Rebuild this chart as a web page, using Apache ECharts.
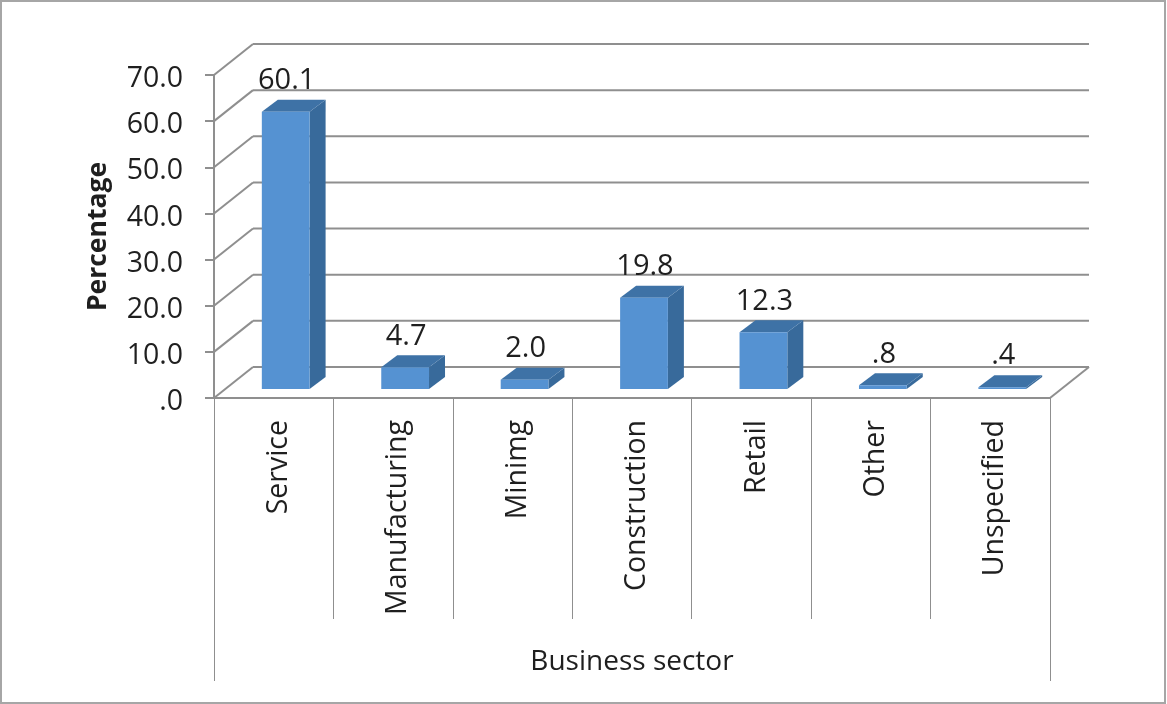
<!DOCTYPE html>
<html>
<head>
<meta charset="utf-8">
<style>html,body{margin:0;padding:0;background:#fff}#chart{width:1167px;height:704px}</style>
<script src="https://cdn.jsdelivr.net/npm/echarts@6/dist/echarts.min.js"></script>
</head>
<body>
<div id="chart"></div>
<script>
// Share of businesses by sector, in percent
const categories = ['Service', 'Manufacturing', 'Minimg', 'Construction', 'Retail', 'Other', 'Unspecified'];
const percentages = [60.1, 4.7, 2.0, 19.8, 12.3, 0.8, 0.4];
const gridTicks = [0, 10, 20, 30, 40, 50, 60, 70];
const xGroup = ['Business sector'];

const FONT = '"Open Sans"';
const TEXT = '#1f1f1f';
const LINE = '#8f8f8f';
const WALL = { dx: 39, dy: -31 };     // offset of the back wall from the axis plane
const INSET = { dx: 12, dy: -9 };     // bar front face, measured from the axis plane
const DEPTH = { dx: 16, dy: -12 };    // extrusion of each bar
const BAR_RATIO = 0.4;

const fmt = v => v.toFixed(1).replace(/^0/, '');
const poly = (points, fill, z2) => ({ type: 'polygon', z2, shape: { points }, style: { fill } });
const seg = (x1, y1, x2, y2) => ({
  type: 'line', shape: { x1, y1, x2, y2 }, style: { stroke: LINE, lineWidth: 2, fill: null }
});

// Floor and back wall: one horizontal plus one diagonal per tick
function renderWall(params, api) {
  const cs = params.coordSys;
  const y = api.coord([0, api.value(0)])[1];
  const left = cs.x, right = cs.x + cs.width;
  const children = [
    seg(left, y, left + WALL.dx, y + WALL.dy),
    seg(left + WALL.dx, y + WALL.dy, right + WALL.dx, y + WALL.dy)
  ];
  if (api.value(0) === 0) children.push(seg(right, y, right + WALL.dx, y + WALL.dy));
  return { type: 'group', children };
}

// Extruded bar with its value above the top face
function renderBar(params, api) {
  const base = api.coord([api.value(0), 0]);
  const top = api.coord([api.value(0), api.value(1)]);
  const half = api.size([1, 0])[0] * BAR_RATIO / 2;
  const x0 = base[0] + INSET.dx - half, x1 = base[0] + INSET.dx + half;
  const y0 = base[1] + INSET.dy, y1 = top[1] + INSET.dy;
  const dx = DEPTH.dx, dy = DEPTH.dy;
  return {
    type: 'group',
    children: [
      poly([[x1, y0], [x1 + dx, y0 + dy], [x1 + dx, y1 + dy], [x1, y1]], '#386a9b', 1),
      poly([[x0, y1], [x1, y1], [x1 + dx, y1 + dy], [x0 + dx, y1 + dy]], '#3e72a6', 1),
      poly([[x0, y0], [x1, y0], [x1, y1], [x0, y1]], '#5592d2', 2),
      {
        type: 'text', z2: 3,
        style: {
          x: (x0 + x1) / 2 + 1, y: y1 - 31,
          text: fmt(api.value(1)),
          font: '29px ' + FONT, fill: TEXT, align: 'center', verticalAlign: 'middle'
        }
      }
    ]
  };
}

const chart = echarts.init(document.getElementById('chart'), null, { renderer: 'canvas' });
chart.setOption({
  animation: false,
  backgroundColor: '#fff',
  graphic: [{
    type: 'rect', silent: true,
    shape: { x: 1, y: 1, width: 1164, height: 702 },
    style: { fill: null, stroke: '#a6a6a6', lineWidth: 2 }
  }],
  grid: { left: 214, top: 75, width: 836, height: 323 },
  xAxis: [
    {
      type: 'category', data: categories,
      axisLine: { lineStyle: { color: LINE, width: 2 } },
      axisTick: { show: true, interval: 0, length: 221, lineStyle: { color: LINE, width: 1 } },
      axisLabel: {
        rotate: 90, interval: 0, margin: 22,
        formatter: v => `{c|${v}}`,
        rich: { c: { padding: [10, 0, 0, 0], fontFamily: FONT, fontSize: 28.5, color: TEXT } }
      },
      z: 3
    },
    {
      type: 'category', data: xGroup, position: 'bottom',
      axisLine: { show: false },
      axisTick: { show: true, interval: 0, length: 283, lineStyle: { color: LINE, width: 1 } },
      axisLabel: { margin: 264, fontFamily: FONT, fontSize: 28, color: TEXT, verticalAlign: 'middle' }
    }
  ],
  yAxis: {
    type: 'value', min: 0, max: 70, interval: 10,
    name: 'Percentage', nameLocation: 'middle', nameGap: 102,
    nameTextStyle: { fontFamily: FONT, fontSize: 26.5, fontWeight: 'bold', color: TEXT },
    axisLine: { show: true, lineStyle: { color: LINE, width: 2 } },
    axisTick: { show: true, length: 9, lineStyle: { color: LINE, width: 2 } },
    axisLabel: {
      margin: 31,
      formatter: v => `{t|${fmt(v)}}`,
      rich: { t: { padding: [8, 0, 0, 0], fontFamily: FONT, fontSize: 28.5, color: TEXT } }
    },
    splitLine: { show: false }
  },
  series: [
    {
      type: 'custom', xAxisIndex: 0, yAxisIndex: 0, clip: false, silent: true, z: 1,
      renderItem: renderWall,
      encode: { y: 0 },
      data: gridTicks.map(t => [t])
    },
    {
      type: 'custom', xAxisIndex: 0, yAxisIndex: 0, clip: false, silent: true, z: 5,
      renderItem: renderBar,
      encode: { x: 0, y: 1 },
      data: percentages.map((v, i) => [i, v])
    }
  ]
});
</script>
</body>
</html>
